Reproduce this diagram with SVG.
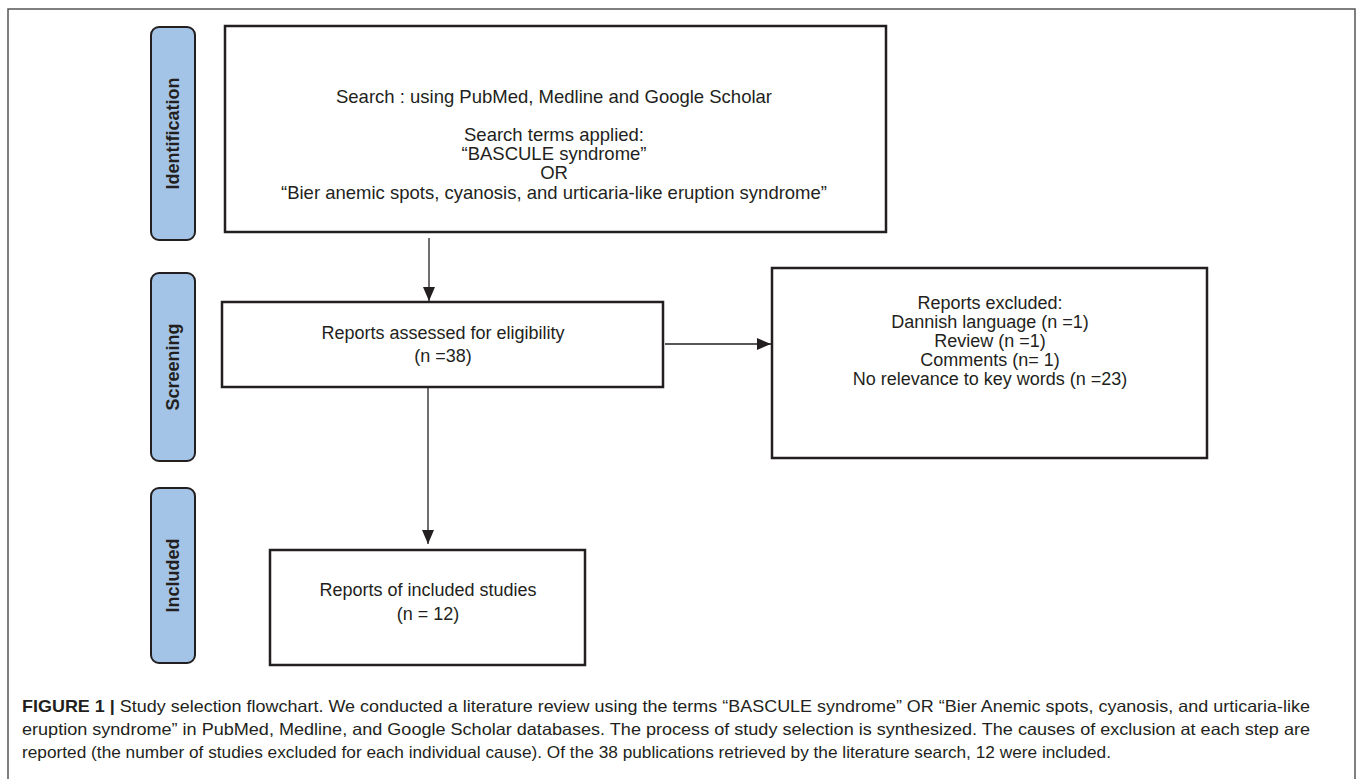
<svg xmlns="http://www.w3.org/2000/svg" width="1358" height="779" viewBox="0 0 1358 779">
<style>
.frame{fill:none;stroke:#555;stroke-width:1.5}
.pill{fill:#a3c4e6;stroke:#231f20;stroke-width:2}
.box{fill:#fff;stroke:#231f20;stroke-width:2.5}
.lbl{font-family:"Liberation Sans",Arial,sans-serif;font-weight:bold;font-size:18px;fill:#231f20;text-anchor:middle}
.t{font-family:"Liberation Sans",Arial,sans-serif;font-size:18px;fill:#231f20;text-anchor:middle}
.t2{font-size:18.5px}
.cap{font-family:"Liberation Sans",Arial,sans-serif;font-size:16.5px;fill:#231f20}
.conn{stroke:#231f20;stroke-width:1.3;fill:none}
</style>
<defs>
<marker id="arr" markerUnits="userSpaceOnUse" markerWidth="14" markerHeight="14" viewBox="0 0 14 14" refX="14" refY="7" orient="auto">
<path d="M0,1 L14,7 L0,13 Z" fill="#231f20"/>
</marker>
</defs>
<rect width="1358" height="779" fill="#fff"/>
<path class="frame" d="M8,790 L8,9 L1355,9 L1355,790"/>

<g id="stage-identification">
<rect class="pill" x="151" y="27" width="44" height="213" rx="8"/>
<text class="lbl" transform="translate(179,133.5) rotate(-90)">Identification</text>
</g>
<g id="stage-screening">
<rect class="pill" x="151" y="273" width="44" height="188" rx="8"/>
<text class="lbl" transform="translate(179,367) rotate(-90)">Screening</text>
</g>
<g id="stage-included">
<rect class="pill" x="151" y="488" width="44" height="175" rx="8"/>
<text class="lbl" transform="translate(179,575.5) rotate(-90)">Included</text>
</g>

<g id="node-search">
<rect class="box" x="225" y="26" width="661" height="206"/>
<text class="t t2" x="554" y="103">Search : using PubMed, Medline and Google Scholar</text>
<text class="t t2" x="554" y="141">Search terms applied:</text>
<text class="t t2" x="554" y="160">“BASCULE syndrome”</text>
<text class="t t2" x="554" y="179">OR</text>
<text class="t t2" x="554" y="199">“Bier anemic spots, cyanosis, and urticaria-like eruption syndrome”</text>
</g>

<g id="node-assessed">
<rect class="box" x="222" y="302" width="441" height="85"/>
<text class="t" x="443" y="339">Reports assessed for eligibility</text>
<text class="t" x="443" y="362">(n =38)</text>
</g>

<g id="node-excluded">
<rect class="box" x="772" y="268" width="435" height="190"/>
<text class="t" x="990" y="309">Reports excluded:</text>
<text class="t" x="990" y="328">Dannish language (n =1)</text>
<text class="t" x="990" y="347">Review (n =1)</text>
<text class="t" x="990" y="366">Comments (n= 1)</text>
<text class="t" x="990" y="385">No relevance to key words (n =23)</text>
</g>

<g id="node-included">
<rect class="box" x="270" y="550" width="315" height="115"/>
<text class="t" x="428" y="596">Reports of included studies</text>
<text class="t" x="428" y="620">(n = 12)</text>
</g>

<g id="connectors">
<line class="conn" x1="429" y1="238" x2="429" y2="301" marker-end="url(#arr)"/>
<line class="conn" x1="665" y1="344" x2="771" y2="344" marker-end="url(#arr)"/>
<line class="conn" x1="428" y1="386" x2="428" y2="544" marker-end="url(#arr)"/>
</g>

<g id="caption">
<text class="cap" x="22" y="712" textLength="1288" lengthAdjust="spacingAndGlyphs"><tspan font-weight="bold">FIGURE 1 | </tspan>Study selection flowchart. We conducted a literature review using the terms “BASCULE syndrome” OR “Bier Anemic spots, cyanosis, and urticaria-like</text>
<text class="cap" x="22" y="735" textLength="1288" lengthAdjust="spacingAndGlyphs">eruption syndrome” in PubMed, Medline, and Google Scholar databases. The process of study selection is synthesized. The causes of exclusion at each step are</text>
<text class="cap" x="22" y="758" textLength="1089" lengthAdjust="spacingAndGlyphs">reported (the number of studies excluded for each individual cause). Of the 38 publications retrieved by the literature search, 12 were included.</text>
</g>
</svg>
